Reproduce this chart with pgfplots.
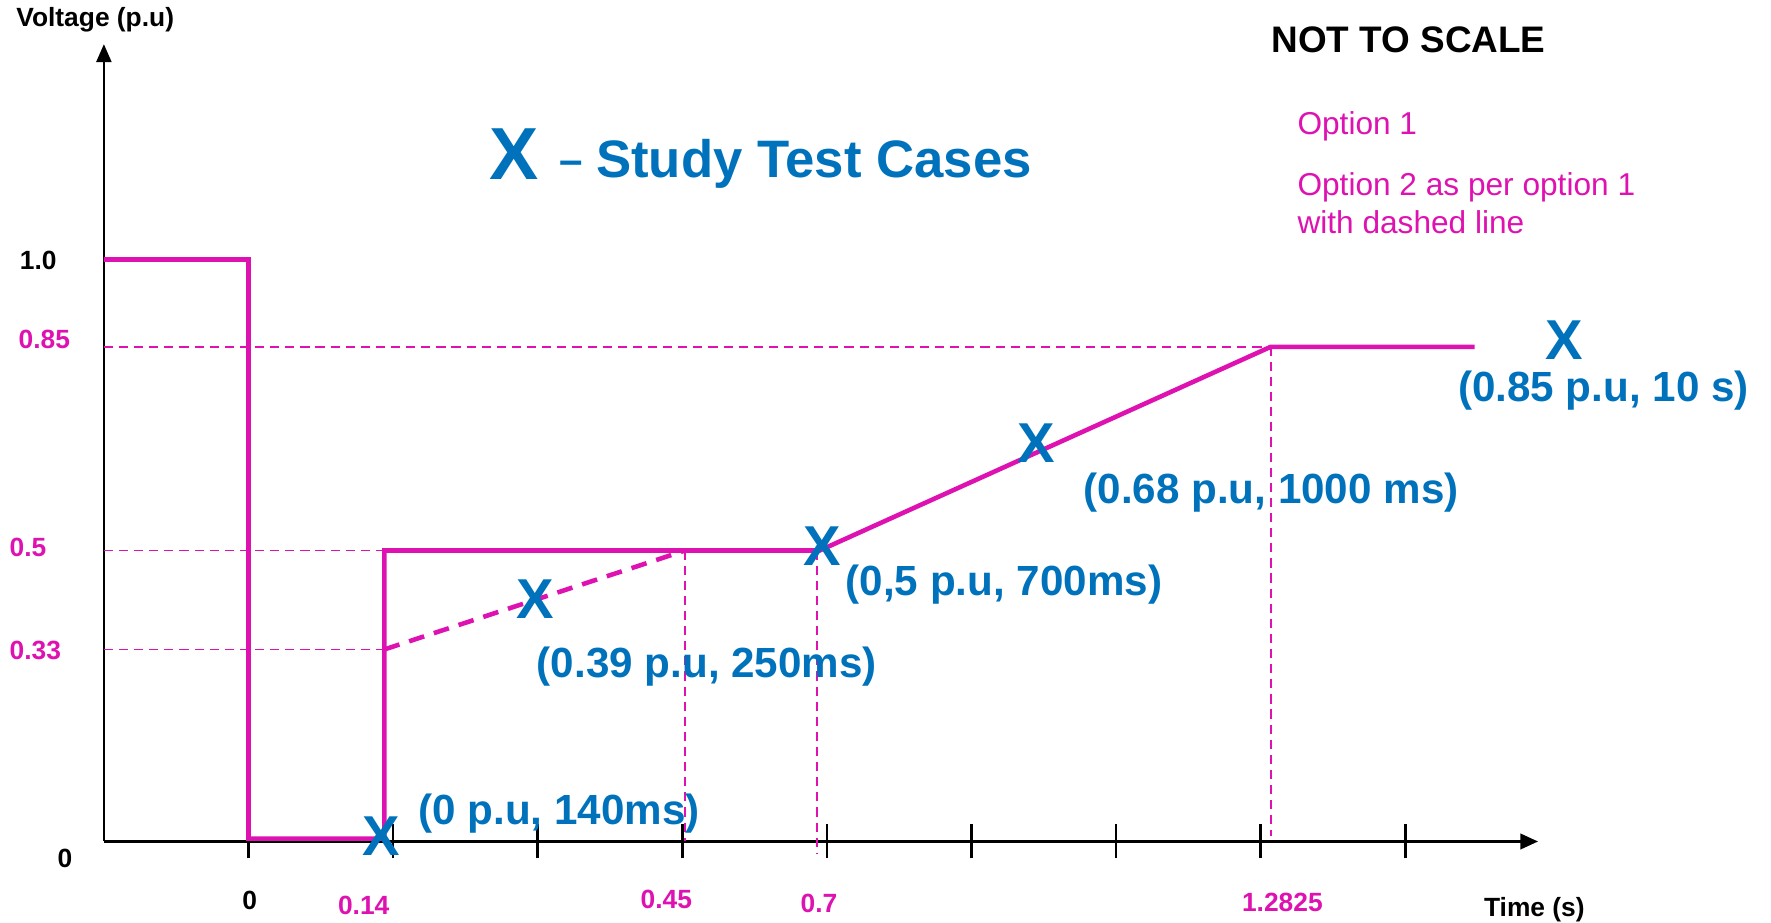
\documentclass[border=0pt]{standalone}
\usepackage{fontspec}
\setmainfont{Liberation Sans}
\usepackage{pgfplots}
\pgfplotsset{compat=1.18}
\usetikzlibrary{arrows.meta}
\definecolor{magline}{RGB}{222,18,176}
\definecolor{caseblue}{RGB}{0,114,188}

\pgfplotsset{
  guide/.style={magline, line width=0.5pt, dash pattern=on 2.6pt off 1.7pt, mark=none, forget plot},
}

\begin{document}
\begin{tikzpicture}
\path (0,0) rectangle (17.71,9.23);
\begin{axis}[
  at={(2.485cm,0.815cm)}, anchor=origin,
  x=1.446cm, y=5.82cm,
  xmin=-1, xmax=8.92, ymin=0, ymax=1.37,
  enlargelimits=false,
  axis lines=left,
  x axis line style={-{Triangle[length=1.8mm,width=1.5mm]}, line width=1.1pt},
  y axis line style={-{Triangle[length=1.8mm,width=1.5mm]}, line width=0.7pt},
  xtick={0,1,...,8}, xticklabel={\mbox{}},
  ytick=\empty,
  tick align=center, major tick length=0.34cm,
  tick style={black, line width=0.7pt},
  clip=false,
]
% guide lines
\addplot[guide] coordinates {(-1,0.85) (7.07,0.85)};
\addplot[guide] coordinates {(-1,0.5) (0.94,0.5)};
\addplot[guide] coordinates {(-1,0.33) (0.94,0.33)};
\addplot[guide] coordinates {(3.02,0.5) (3.02,0)};
\addplot[guide] coordinates {(3.93,0.5) (3.93,-0.02)};
\addplot[guide] coordinates {(7.07,0.85) (7.07,0.01)};

% option 1
\addplot[magline, line width=1.3pt, mark=none] coordinates {
(-1,1.0) (0,1.0) (0,0.005) (0.94,0.005) (0.94,0.5) (3.95,0.5) (7.07,0.85) (8.48,0.85)
};
% option 2
\addplot[magline, line width=1.3pt, mark=none, dash pattern=on 4.5pt off 2.9pt] coordinates {
(0.94,0.33) (3.02,0.5)
};

% study test cases
\addplot[only marks, mark=text, text mark={X}, text mark as node=true,
  mark options={text=caseblue, font=\bfseries\fontsize{16}{16}\selectfont, inner sep=0pt}]
coordinates {
(0.92,0.01) (1.98,0.417) (3.97,0.508) (5.45,0.685) (9.10,0.862)
};

% case labels
\begin{scope}[every node/.style={anchor=west, text=caseblue, font=\bfseries\fontsize{12}{14}\selectfont, inner sep=0pt}]
\node at (axis cs:1.17,0.0485) {(0 p.u, 140ms)};
\node at (axis cs:1.99,0.301) {(0.39 p.u, 250ms)};
\node at (axis cs:4.125,0.441) {(0,5 p.u, 700ms)};
\node at (axis cs:5.77,0.600) {(0.68 p.u, 1000 ms)};
\node at (axis cs:8.36,0.775) {(0.85 p.u, 10 s)};
\end{scope}

% title
\node[text=caseblue, font=\bfseries\fontsize{21}{21}\selectfont, inner sep=0pt] at (axis cs:1.84,1.181) {X};
\node[text=caseblue, font=\bfseries\fontsize{12}{12}\selectfont, inner sep=0pt] at (axis cs:2.23,1.158) {--};
\node[anchor=west, text=caseblue, font=\bfseries\fontsize{15}{15}\selectfont, inner sep=0pt] at (axis cs:2.40,1.165) {Study Test Cases};

\node[anchor=west, font=\bfseries\fontsize{10.5}{12}\selectfont, inner sep=0pt] at (axis cs:7.07,1.377) {NOT TO SCALE};
\node[anchor=west, text=magline, font=\fontsize{9}{11}\selectfont, inner sep=0pt] at (axis cs:7.25,1.229) {Option 1};
\node[anchor=west, text=magline, font=\fontsize{9}{10.9}\selectfont, inner sep=0pt, align=left] at (axis cs:7.25,1.097) {Option 2 as per option 1\\with dashed line};

% axis titles
\node[anchor=west, font=\bfseries\fontsize{7.5}{9}\selectfont, inner sep=0pt] at (axis cs:-1.61,1.412) {Voltage (p.u)};
\node[anchor=west, font=\bfseries\fontsize{7.5}{9}\selectfont, inner sep=0pt] at (axis cs:8.54,-0.117) {Time (s)};

% y labels
\begin{scope}[every node/.style={anchor=west, font=\bfseries\fontsize{7.5}{9}\selectfont, inner sep=0pt}]
\node at (axis cs:-1.586,0.998) {1.0};
\node[text=magline] at (axis cs:-1.594,0.862) {0.85};
\node[text=magline] at (axis cs:-1.656,0.505) {0.5};
\node[text=magline] at (axis cs:-1.656,0.328) {0.33};
\end{scope}
\begin{scope}[every node/.style={font=\bfseries\fontsize{7.5}{9}\selectfont, inner sep=0pt}]
\node at (axis cs:-1.27,-0.029) {0};
\node at (axis cs:0.008,-0.101) {0};
\node[text=magline] at (axis cs:0.797,-0.109) {0.14};
\node[text=magline] at (axis cs:2.89,-0.099) {0.45};
\node[text=magline] at (axis cs:3.945,-0.107) {0.7};
\node[text=magline] at (axis cs:7.15,-0.105) {1.2825};
\end{scope}
\end{axis}
\end{tikzpicture}
\end{document}
